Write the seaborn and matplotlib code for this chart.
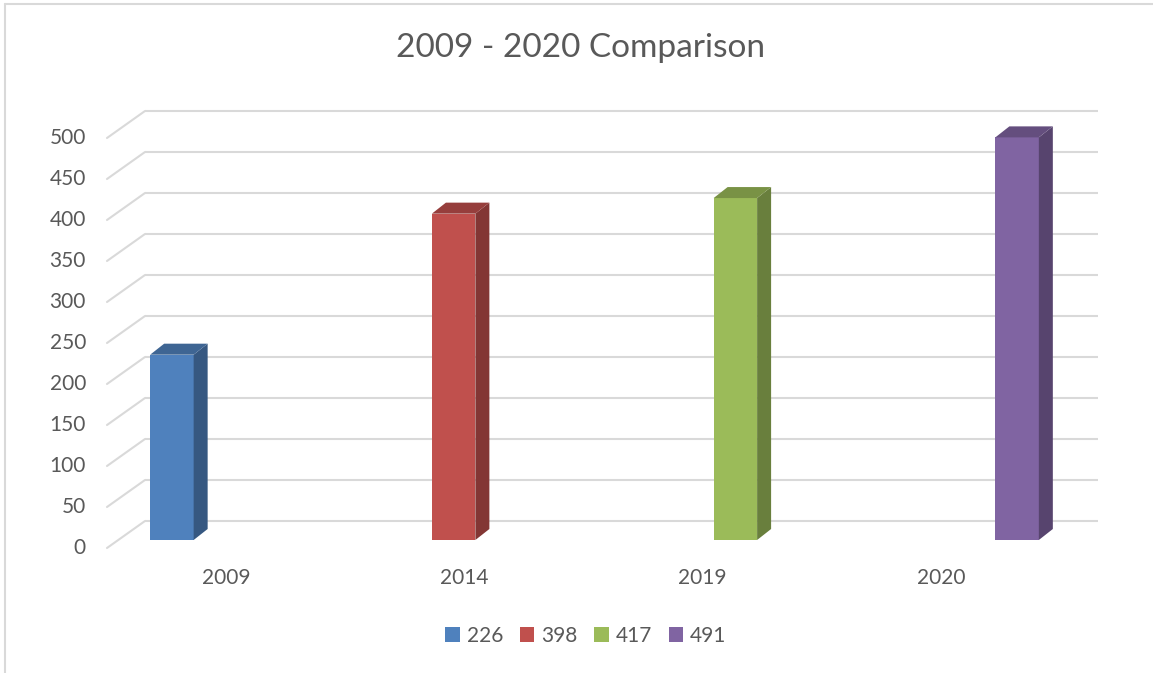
import numpy as np
import pandas as pd
import seaborn as sns
import matplotlib.pyplot as plt
from matplotlib.patches import Polygon
from matplotlib.lines import Line2D

YEARS = ['2009', '2014', '2019', '2020']
SERIES = ['226', '398', '417', '491']
VALUES = [226, 398, 417, 491]
YTICKS = [0, 50, 100, 150, 200, 250, 300, 350, 400, 450, 500]
COLORS = ['#4F81BD', '#C0504D', '#9BBB59', '#8064A2']
TITLE = '2009 - 2020 Comparison'

TEXT = '#595959'
GRID = '#D9D9D9'
W, H = 1153, 673

# pixel offsets of the 3D planes relative to the plane of the bar fronts
BACK = (27, 19)
FRONT = (-11, -8)
DEPTH = (14, 11)

sns.set_style('white')
plt.rcParams['font.family'] = ['Lato', 'DejaVu Sans']

df = pd.DataFrame({'year': YEARS, 'series': SERIES, 'value': VALUES})

fig = plt.figure(figsize=(W / 100, H / 100), dpi=100)
ax = fig.add_axes([118 / W, 133 / H, 953 / W, 410 / H])

sns.barplot(data=df, x='year', y='value', hue='series', order=YEARS,
            hue_order=SERIES, palette=COLORS, width=0.73, dodge=True,
            saturation=1, linewidth=0, zorder=3, ax=ax)
ax.set_xlim(-0.5, 3.5)
ax.set_ylim(0, 500)
ax.set_xticks([])
ax.set_yticks([])
ax.set_xlabel('')
ax.set_ylabel('')
for s in ax.spines.values():
    s.set_visible(False)


def px(dx, dy):
    o = ax.transData.transform((0, 0))
    return ax.transData.inverted().transform((o[0] + dx, o[1] + dy))


bx, by = px(*BACK)
fx, fy = px(*FRONT)
dx, dy = px(*DEPTH)
x0, x1 = ax.get_xlim()

# walls: horizontal gridlines on back wall, diagonals on the side wall
for v in YTICKS:
    ax.plot([x0 + bx, x1 + bx], [v + by, v + by], color=GRID, lw=1.5,
            clip_on=False, zorder=1, solid_capstyle='butt')
    ax.plot([x0 + fx, x0 + bx], [v + fy, v + by], color=GRID, lw=1.5,
            clip_on=False, zorder=1)
    lx, ly = px(-21, 0)
    ax.text(x0 + fx + lx, v + fy, str(v), ha='right', va='center',
            fontsize=15, color=TEXT)

# category labels on the front plane
cx, cy = px(-11, -38)
for i, yr in enumerate(YEARS):
    ax.text(i + cx, cy, yr, ha='center', va='center', fontsize=15, color=TEXT,
            clip_on=False)

# 3D faces for every bar
for p in list(ax.patches):
    h = p.get_height()
    if h <= 0:
        continue
    a = p.get_x()
    w = p.get_width()
    b = p.get_y()
    c = np.array(p.get_facecolor()[:3])
    side = Polygon([(a + w, b), (a + w + dx, b + dy), (a + w + dx, b + h + dy), (a + w, b + h)],
                   closed=True, facecolor=c * 0.68, edgecolor='none', zorder=3, clip_on=False)
    top = Polygon([(a, b + h), (a + w, b + h), (a + w + dx, b + h + dy), (a + dx, b + h + dy)],
                  closed=True, facecolor=c * 0.78, edgecolor='none', zorder=3, clip_on=False)
    ax.add_patch(side)
    ax.add_patch(top)

handles, labels = ax.get_legend_handles_labels()
ax.legend(handles, labels, loc='center', bbox_to_anchor=(586 / W, 1 - 636 / H),
          bbox_transform=fig.transFigure, ncol=4, frameon=False,
          handlelength=0.7, handleheight=0.7, handletextpad=0.33,
          columnspacing=0.8, fontsize=15, labelcolor=TEXT)

fig.text(581 / W, 1 - 48 / H, TITLE, ha='center', va='center', fontsize=24, color=TEXT)

# chart border (left and top edges visible)
fig.add_artist(Line2D([5 / W, 5 / W], [0, 1 - 4 / H], transform=fig.transFigure, color=GRID, lw=1.5))
fig.add_artist(Line2D([5 / W, 1], [1 - 4 / H, 1 - 4 / H], transform=fig.transFigure, color=GRID, lw=1.5))

fig.savefig('out.png', dpi=100, facecolor='white')
